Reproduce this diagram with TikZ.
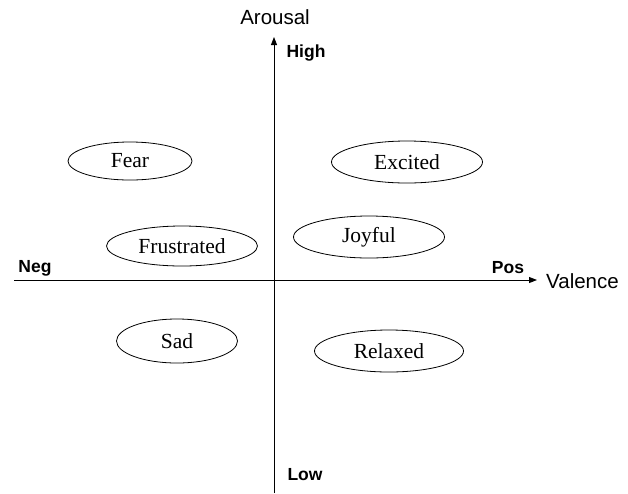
\documentclass[tikz,border=0pt]{standalone}
\usepackage{fontspec}
\setmainfont{Liberation Serif}
\setsansfont{Liberation Sans}
\usetikzlibrary{shapes.geometric,arrows.meta}
\begin{document}
\begin{tikzpicture}[x=1pt,y=-1pt,
  emo/.style={draw,ellipse,line width=0.8pt,inner sep=0pt,font=\fontsize{21.5}{24}\selectfont},
  axis/.style={line width=0.9pt,-{Triangle[length=8pt,width=6pt]}},
  axlab/.style={font=\sffamily\fontsize{20.5}{23}\selectfont,inner sep=0pt},
  pole/.style={font=\sffamily\bfseries\fontsize{17.5}{20}\selectfont,inner sep=0pt}]
\useasboundingbox (0,0) rectangle (628,493);
\coordinate (vb) at (274,493);
\coordinate (vt) at (274,37);
\coordinate (hl) at (14,280);
\coordinate (hr) at (537,280);
\draw[axis] (vb) -- (vt);
\draw[axis] (hl) -- (hr);
\node[axlab] (arousal) at (275,17) {Arousal};
\node[axlab,anchor=west] (valence) at (546,281) {Valence};
\node[pole] (high) at (306,53) {High};
\node[pole] (low) at (305,475) {Low};
\node[pole] (neg) at (35,268) {Neg};
\node[pole] (pos) at (508,268) {Pos};
\node[emo,minimum width=124pt,minimum height=38pt] (fear) at (130,161) {Fear};
\node[emo,minimum width=151pt,minimum height=42pt] (excited) at (407,162) {Excited};
\node[emo,minimum width=151pt,minimum height=40pt] (frustrated) at (182,246) {Frustrated};
\node[emo,minimum width=151pt,minimum height=42pt] (joyful) at (369,237) {Joyful};
\node[emo,minimum width=121pt,minimum height=44pt] (sad) at (177,341) {Sad};
\node[emo,minimum width=149pt,minimum height=42pt] (relaxed) at (389,351) {Relaxed};
\end{tikzpicture}
\end{document}
